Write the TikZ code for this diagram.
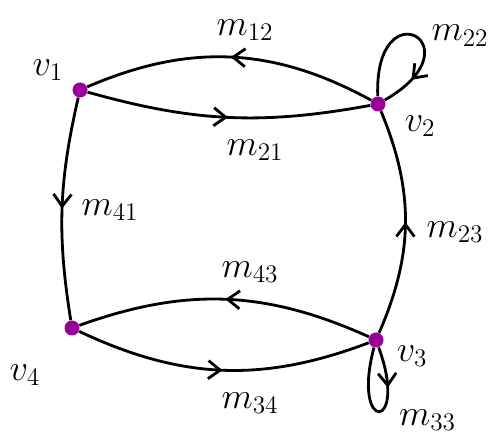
\documentclass[tikz,border=0pt]{standalone}
\usepackage{amsmath, amssymb}
\usepackage{tikz}
\usetikzlibrary{arrows.meta, positioning, decorations.markings}

\begin{document}
\begin{tikzpicture}[
    vtx/.style={circle, fill=violet!80!magenta, inner sep=0pt, minimum size=0.3cm},
    arc/.style={line width=1.6pt, postaction={decorate},
        decoration={markings, mark=at position #1 with {\arrow{Straight Barb[length=2.4mm, width=3.6mm, line width=1.6pt]}}}},
    arc/.default=0.5,
    lbl/.style={font=\huge}
]
    \useasboundingbox (0,0) rectangle (10,8.76);
    \node[vtx] (v1) at (1.6,6.96) {};
    \node[vtx] (v2) at (7.56,6.68) {};
    \node[vtx] (v3) at (7.52,1.96) {};
    \node[vtx] (v4) at (1.44,2.2) {};

    \draw[arc] (v2) to[bend right=26] (v1);
    \draw[arc] (v1) to[bend right=13] (v2);
    \draw[arc] (v1) to[bend right=11] (v4);
    \draw[arc] (v3) to[bend right=23] (v2);
    \draw[arc] (v3) to[bend right=22] (v4);
    \draw[arc] (v4) to[bend right=23] (v3);
    % self loops
    \draw[arc=0.8] (v2) to[out=92, in=30, min distance=2.2cm] (v2);
    \draw[arc=0.3] (v3) to[out=-70, in=-105, min distance=1.8cm] (v3);

    \node[lbl] (l1) at (0.96,7.36) {$v_1$};
    \node[lbl] (l2) at (8.4,6.24) {$v_2$};
    \node[lbl] (l3) at (8.24,1.64) {$v_3$};
    \node[lbl] (l4) at (0.5,1.26) {$v_4$};

    \node[lbl] (m12) at (4.9,8.16) {$m_{12}$};
    \node[lbl] (m21) at (5.1,5.76) {$m_{21}$};
    \node[lbl] (m41) at (2.2,4.56) {$m_{41}$};
    \node[lbl] (m23) at (9.1,4.12) {$m_{23}$};
    \node[lbl] (m43) at (5.0,3.32) {$m_{43}$};
    \node[lbl] (m34) at (5.0,0.7) {$m_{34}$};
    \node[lbl] (m22) at (9.2,8.05) {$m_{22}$};
    \node[lbl] (m33) at (8.55,0.36) {$m_{33}$};
\end{tikzpicture}
\end{document}
